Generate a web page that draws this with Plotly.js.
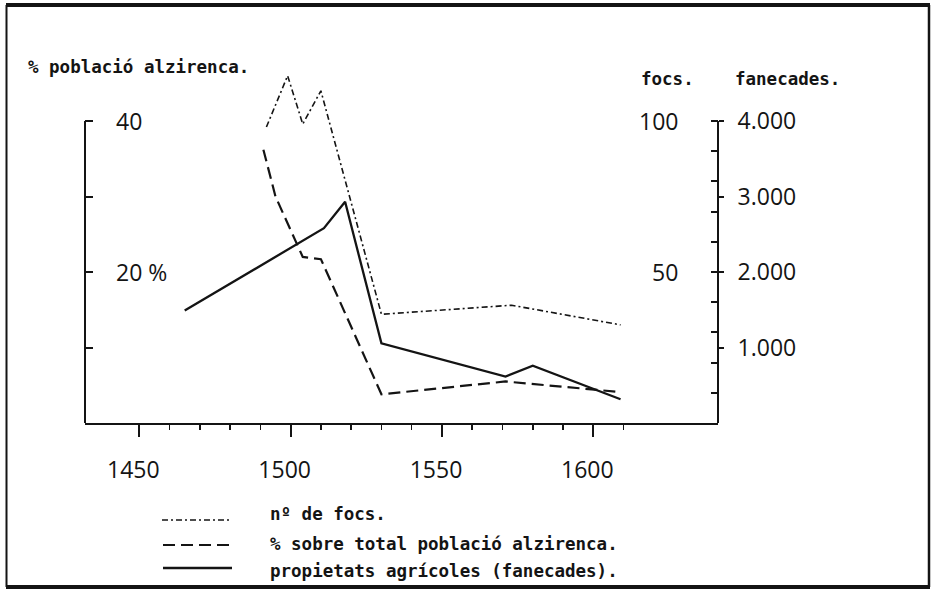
<!DOCTYPE html>
<html>
<head>
<meta charset="utf-8">
<script src="https://cdn.plot.ly/plotly-3.0.1.min.js"></script>
<style>
html,body{margin:0;padding:0;background:#ffffff;}
#chart{width:934px;height:614px;}
</style>
</head>
<body>
<div id="chart"></div>
<script>
// ---- data ----
const focsYears  = [1492, 1499, 1504, 1510, 1530, 1573, 1609];
const focsValues = [98, 115, 99, 110, 36, 39, 32.5];

const pctYears  = [1491, 1495, 1504, 1510, 1530, 1571, 1609];
const pctValues = [36.2, 30.0, 22.0, 21.7, 3.8, 5.5, 4.1];

const fanYears  = [1465, 1511, 1518, 1530, 1571, 1580, 1609];
const fanValues = [1490, 2580, 2930, 1055, 615, 760, 315];

// ---- axis ticks / labels ----
const xTickYears  = [1450, 1500, 1550, 1600];
const xMinorYears = [1460, 1470, 1480, 1490, 1510, 1520, 1530, 1540, 1560, 1570, 1580, 1590, 1610];
const pctTickVals = [10, 20, 30, 40];
const pctTickText = ['', '20 %', '', '40'];
const focsTickVals = [10, 20, 30, 40, 50, 60, 70, 80, 90, 100];
const focsTickText = ['', '', '', '', '50', '', '', '', '', '100'];
const fanTickVals = [1000, 2000, 3000, 4000];
const fanTickText = ['1.000', '2.000', '3.000', '4.000'];

const titlePct  = '% població alzirenca.';
const titleFocs = 'focs.';
const titleFan  = 'fanecades.';
const legendNames = ['nº de focs.', '% sobre total població alzirenca.', 'propietats agrícoles (fanecades).'];

// ---- styling ----
const INK = '#141414';
const tickFont = {family: '"Open Sans", "DejaVu Sans", sans-serif', size: 23, color: INK};
const monoFont = {family: '"DejaVu Sans Mono", "Liberation Mono", monospace', size: 17.5, color: INK, weight: 700};
const dashFocs = '6px,3px,2px,3px';
const dashPct  = '12px,6px';

// plot-area pixel frame (for decorations)
const L = 85, R = 718, T = 60, B = 423;
function px(x){ return (x - L) / (R - L); }
function py(y){ return (B - y) / (B - T); }

// y ranges: all three scales share the same pixel mapping (40% = 100 focs = 4000 fan.)
const pctTop = 40 * (B - T) / 302;
const focsTop = 100 * (B - T) / 302;
const fanTop = 4000 * (B - T) / 302;
const xPerPx = 150 / (593.3 - 139.3);
const xRange = [1450 - (139.3 - L) * xPerPx, 1450 + (R - 139.3) * xPerPx];

const traces = [
  {x: focsYears, y: focsValues, yaxis: 'y2', type: 'scatter', mode: 'lines', name: legendNames[0],
   line: {color: INK, width: 1.6, dash: dashFocs}},
  {x: pctYears, y: pctValues, yaxis: 'y', type: 'scatter', mode: 'lines', name: legendNames[1],
   line: {color: INK, width: 2.2, dash: dashPct}},
  {x: fanYears, y: fanValues, yaxis: 'y3', type: 'scatter', mode: 'lines', name: legendNames[2],
   line: {color: INK, width: 2.3}}
];

const shapes = [
  // left and right axis lines (only up to 40% / 100 focs / 4000)
  {type: 'line', xref: 'paper', yref: 'y', x0: 0, x1: 0, y0: 0, y1: 40, line: {color: INK, width: 2}},
  {type: 'line', xref: 'paper', yref: 'y', x0: 1, x1: 1, y0: 0, y1: 40, line: {color: INK, width: 2}},
  // outer frame
  {type: 'line', xref: 'paper', yref: 'paper', x0: px(6), x1: px(930), y0: py(5), y1: py(5), line: {color: INK, width: 4}},
  {type: 'line', xref: 'paper', yref: 'paper', x0: px(6), x1: px(930), y0: py(587), y1: py(587), line: {color: INK, width: 4}},
  {type: 'line', xref: 'paper', yref: 'paper', x0: px(6.5), x1: px(6.5), y0: py(5), y1: py(587), line: {color: INK, width: 2}},
  {type: 'line', xref: 'paper', yref: 'paper', x0: px(929), x1: px(929), y0: py(5), y1: py(587), line: {color: INK, width: 2.5}},
  // legend samples
  {type: 'line', xref: 'paper', yref: 'paper', x0: px(162), x1: px(231), y0: py(520), y1: py(520), line: {color: INK, width: 1.6, dash: dashFocs}},
  {type: 'line', xref: 'paper', yref: 'paper', x0: px(163), x1: px(235), y0: py(545), y1: py(545), line: {color: INK, width: 2.2, dash: dashPct}},
  {type: 'line', xref: 'paper', yref: 'paper', x0: px(163), x1: px(232), y0: py(568), y1: py(568), line: {color: INK, width: 2.3}}
];

function ann(text, x, y, xanchor){
  return {text: text, xref: 'paper', yref: 'paper', x: px(x), y: py(y), xanchor: xanchor, yanchor: 'middle',
          showarrow: false, font: monoFont};
}
const annotations = [
  ann(titlePct, 26, 67, 'left'),
  ann(titleFocs, 667, 79, 'center'),
  ann(titleFan, 733, 79, 'left'),
  ann(legendNames[0], 268, 514, 'left'),
  ann(legendNames[1], 268, 544, 'left'),
  ann(legendNames[2], 268, 571, 'left')
];
// tick labels that sit inside the plot area (placed at their axis values)
pctTickVals.forEach(function(v, i){
  if (pctTickText[i]) annotations.push({text: pctTickText[i], xref: 'paper', yref: 'y', x: px(114), y: v,
    xanchor: 'left', yanchor: 'middle', showarrow: false, font: tickFont});
});
focsTickVals.forEach(function(v, i){
  if (focsTickText[i]) annotations.push({text: focsTickText[i], xref: 'paper', yref: 'y2', x: px(680), y: v,
    xanchor: 'right', yanchor: 'middle', showarrow: false, font: tickFont});
});

const layout = {
  width: 934, height: 614,
  margin: {l: L, r: 934 - R, t: T, b: 614 - B, pad: 0},
  paper_bgcolor: '#ffffff', plot_bgcolor: 'rgba(0,0,0,0)',
  showlegend: false,
  xaxis: {
    range: xRange, tickmode: 'array', tickvals: xTickYears, ticktext: xTickYears.map(String),
    ticks: 'outside', ticklen: 12, tickwidth: 2, tickcolor: INK,
    showline: true, linewidth: 2, linecolor: INK, showgrid: false, zeroline: false,
    tickfont: tickFont, ticklabelstandoff: 13, ticklabelshift: -6, automargin: false,
    minor: {tickmode: 'array', tickvals: xMinorYears, ticks: 'outside', ticklen: 5, tickwidth: 1.5, tickcolor: INK, showgrid: false}
  },
  yaxis: {
    range: [0, pctTop], tickmode: 'array', tickvals: pctTickVals, showticklabels: false,
    ticks: 'inside', ticklen: 8, tickwidth: 2, tickcolor: INK,
    showline: false, showgrid: false, zeroline: false, automargin: false
  },
  yaxis2: {
    overlaying: 'y', side: 'right', anchor: 'x',
    range: [0, focsTop], tickmode: 'array', tickvals: focsTickVals, showticklabels: false,
    ticks: 'inside', ticklen: 7, tickwidth: 2, tickcolor: INK,
    showline: false, showgrid: false, zeroline: false, automargin: false
  },
  yaxis3: {
    overlaying: 'y', side: 'right', anchor: 'x',
    range: [0, fanTop], tickmode: 'array', tickvals: fanTickVals, ticktext: fanTickText,
    ticks: 'outside', ticklen: 5, tickwidth: 2, tickcolor: INK, ticklabelposition: 'outside',
    ticklabelstandoff: 9, tickfont: tickFont,
    showline: false, showgrid: false, zeroline: false, automargin: false
  },
  shapes: shapes,
  annotations: annotations
};

Plotly.newPlot('chart', traces, layout, {displayModeBar: false, staticPlot: true});
</script>
</body>
</html>
